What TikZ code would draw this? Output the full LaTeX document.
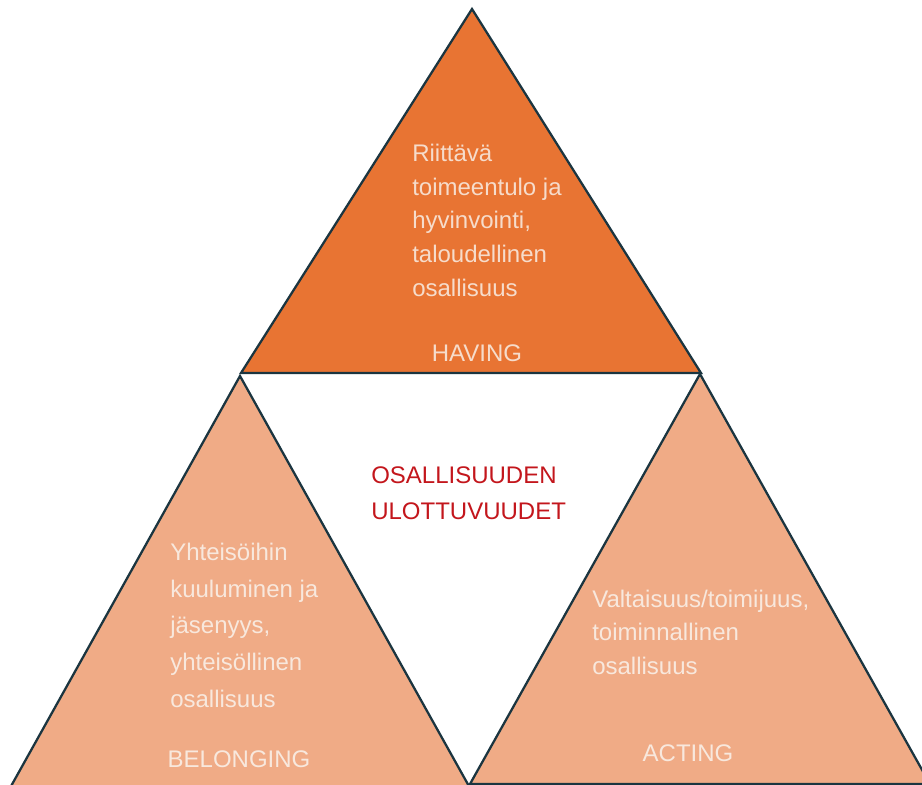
\documentclass[tikz,border=0pt]{standalone}
\usepackage{fontspec}
\setmainfont{Liberation Sans}
\usepackage{xcolor}
\definecolor{having-orange}{HTML}{E87433}
\definecolor{light-orange}{HTML}{F0AB86}
\definecolor{edge-dark}{HTML}{1B3540}
\definecolor{title-red}{HTML}{C3161C}
\definecolor{pale-text}{HTML}{F6DCCB}
\definecolor{paler-text}{HTML}{F8E8DD}
\tikzset{
    dark-tri/.style = {fill=having-orange, draw=edge-dark, line width=1.7pt},
    light-tri/.style = {fill=light-orange, draw=edge-dark, line width=1.7pt},
    tri-text/.style = {anchor=base west, align=left, inner sep=0pt, font=\fontsize{18}{#1}\selectfont},
    tri-title/.style = {anchor=base, inner sep=0pt, font=\fontsize{18}{21}\selectfont},
}

\begin{document}
\begin{tikzpicture}[x=0.75pt, y=-0.75pt]
\useasboundingbox (0,0) rectangle (922,785);
\clip (0,0) rectangle (922,785);
% having
\draw[dark-tri] (472,9) coordinate (having-top) -- (241,373) coordinate (having-left)
    -- (701,373) coordinate (having-right) -- cycle;
% belonging and acting
\draw[light-tri] (240,376) coordinate (belonging-top) -- (10,788) -- (470,788) -- cycle;
\draw[light-tri] (700,374) coordinate (acting-top) -- (470,784) -- (930,784) -- cycle;

% texts, placed at the baseline of their last line
\node[tri-text=25.2, text=pale-text] (having-text) at (412,296)
    {Riittävä\\toimeentulo ja\\hyvinvointi,\\taloudellinen\\osallisuus};
\node[tri-title, text=pale-text] (having) at (477,361) {HAVING};

\node[tri-text=27, text=title-red] (center-text) at (371,519) {OSALLISUUDEN\\ULOTTUVUUDET};

\node[tri-text=27.5, text=paler-text] (belonging-text) at (170,707)
    {Yhteisöihin\\kuuluminen ja\\jäsenyys,\\yhteisöllinen\\osallisuus};
\node[tri-title, text=paler-text] (belonging) at (239,767) {BELONGING};

\node[tri-text=25.1, text=paler-text] (acting-text) at (592,674)
    {Valtaisuus/toimijuus,\\toiminnallinen\\osallisuus};
\node[tri-title, text=paler-text] (acting) at (688,761) {ACTING};
\end{tikzpicture}
\end{document}
